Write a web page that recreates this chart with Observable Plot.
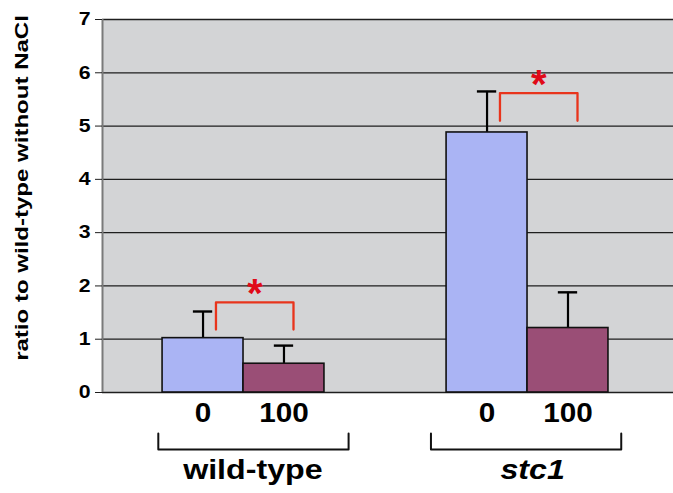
<!DOCTYPE html>
<html><head><meta charset="utf-8">
<script src="https://cdn.jsdelivr.net/npm/d3@7"></script>
<script src="https://cdn.jsdelivr.net/npm/@observablehq/plot@0.6"></script>
<style>body{margin:0;background:#fff;} svg{display:block;}</style>
</head><body><div id="chart"></div>
<script>
// ---- data ----
const groups = ["wild-type", "stc1"];
const naclLabels = ["0", "100"];
const means = [1.02, 0.54, 4.88, 1.21];          // wt-0, wt-100, stc1-0, stc1-100
const upperErrors = [0.50, 0.34, 0.77, 0.67];
const yTicks = [0, 1, 2, 3, 4, 5, 6, 7];
const yTitle = "ratio to wild-type without NaCl";
const sigBracketLow = [1.18, 5.10];
const sigBracketHigh = [1.69, 5.62];
const sigMark = ["*", "*"];
const sigBracketOffsets = [-0.097, 0.176];
const groupBracketX = [[0.70, 1.37], [1.66, 2.33]];
const groupLabelX = [1.033, 2.018];
const groupBracketY = [-0.77, -1.07];

// ---- layout / style ----
const barW = 0.285;
const capHalf = 0.034;
const xDomain = [0.5035, 2.514];
const barColors = ["#aab4f4", "#9a4e76"];
const red = "#e8341c";
const starRed = "#e00a18";
const FS = {tick: 18, xlab: 27, glab: 28, title: 18.5, star: 40};
const STRETCH = {18: 1.18, 27: 1.1, 28: 1.15, 18.5: 1.3};

const rows = means.map((m, i) => {
  const gi = Math.floor(i / 2) + 1, ci = i % 2;
  const x1 = gi - barW + ci * barW;
  return {group: groups[gi - 1], conc: naclLabels[ci], mean: m, err: upperErrors[i],
          x1, x2: x1 + barW, xc: x1 + barW / 2};
});
const sigLines = [];
groups.forEach((g, k) => {
  const c = k + 1;
  const l = c + sigBracketOffsets[0], r = c + sigBracketOffsets[1];
  sigLines.push({g, x: l, y: sigBracketLow[k]}, {g, x: l, y: sigBracketHigh[k]},
                {g, x: r, y: sigBracketHigh[k]}, {g, x: r, y: sigBracketLow[k]});
});
const sigStars = groups.map((g, k) => ({g, text: sigMark[k],
  x: k + 1 + (sigBracketOffsets[0] + sigBracketOffsets[1]) / 2, y: sigBracketHigh[k]}));
const groupLines = [];
groups.forEach((g, k) => {
  const [l, r] = groupBracketX[k];
  groupLines.push({g, x: l, y: groupBracketY[0]}, {g, x: l, y: groupBracketY[1]},
                  {g, x: r, y: groupBracketY[1]}, {g, x: r, y: groupBracketY[0]});
});

const svg = Plot.plot({
  width: 673, height: 493,
  marginLeft: 102, marginRight: 0, marginTop: 19, marginBottom: 101,
  style: {fontFamily: "'Liberation Sans', Arial, sans-serif", background: "#fff"},
  x: {domain: xDomain, axis: null},
  y: {domain: [0, 7], axis: null},
  color: {domain: naclLabels, range: barColors},
  marks: [
    Plot.frame({fill: "#d3d4d6", stroke: "none"}),
    Plot.ruleY(yTicks, {stroke: "#1e1e1e", strokeWidth: 1.3}),
    Plot.ruleX([xDomain[0]], {y1: 0, y2: 7, stroke: "#7a7a7a", strokeWidth: 2}),
    Plot.axisY({ticks: yTicks, tickSize: 7, tickPadding: 5, tickFormat: d => String(d),
      fontSize: FS.tick, fontWeight: "bold", label: null, stroke: "#1e1e1e"}),
    Plot.ruleX(rows, {x: "xc", y1: "mean", y2: d => d.mean + d.err, stroke: "#000", strokeWidth: 2.2}),
    Plot.ruleY(rows, {y: d => d.mean + d.err, x1: d => d.xc - capHalf, x2: d => d.xc + capHalf,
      stroke: "#000", strokeWidth: 2.4}),
    Plot.rectY(rows, {x1: "x1", x2: "x2", y1: 0, y2: "mean", fill: "conc",
      stroke: "#111", strokeWidth: 1.6}),
    Plot.line(sigLines, {x: "x", y: "y", z: "g", stroke: red, strokeWidth: 2.3, curve: "linear"}),
    Plot.text(sigStars, {x: "x", y: "y", text: "text", fill: starRed, fontSize: FS.star,
      fontWeight: "bold", lineAnchor: "middle", dy: -8}),
    Plot.text(rows, {x: "xc", text: "conc", frameAnchor: "bottom", dy: 21, fontSize: FS.xlab,
      fontWeight: "bold", lineAnchor: "middle", fill: "#000"}),
    Plot.line(groupLines, {x: "x", y: "y", z: "g", stroke: "#111", strokeWidth: 2}),
    Plot.text([groups[0]], {x: groupLabelX[0], text: d => d, frameAnchor: "bottom", dy: 78,
      fontSize: FS.glab, fontWeight: "bold", lineAnchor: "middle", fill: "#000"}),
    Plot.text([groups[1]], {x: groupLabelX[1], text: d => d, frameAnchor: "bottom", dy: 78,
      fontSize: FS.glab, fontWeight: "bold", fontStyle: "italic", lineAnchor: "middle", fill: "#000"}),
    Plot.text([yTitle], {frameAnchor: "left", text: d => d, rotate: -90, dx: -80, dy: -18,
      textAnchor: "middle", fontSize: FS.title, fontWeight: "bold", lineAnchor: "middle", fill: "#000"})
  ]
});

// widen the bold sans glyphs to match the reference's wide lettering
svg.querySelectorAll("text").forEach(t => {
  const g = t.closest("[font-size]");
  if (!g) return;
  const s = STRETCH[parseFloat(g.getAttribute("font-size"))];
  if (!s) return;
  let tr = t.getAttribute("transform");
  if (!tr) {
    const x = parseFloat(t.getAttribute("x")) || 0, y = parseFloat(t.getAttribute("y")) || 0;
    t.removeAttribute("x"); t.removeAttribute("y");
    tr = `translate(${x},${y})`;
  }
  t.setAttribute("transform", tr + ` scale(${s},1)`);
});

document.getElementById("chart").appendChild(svg);
</script>
</body></html>
